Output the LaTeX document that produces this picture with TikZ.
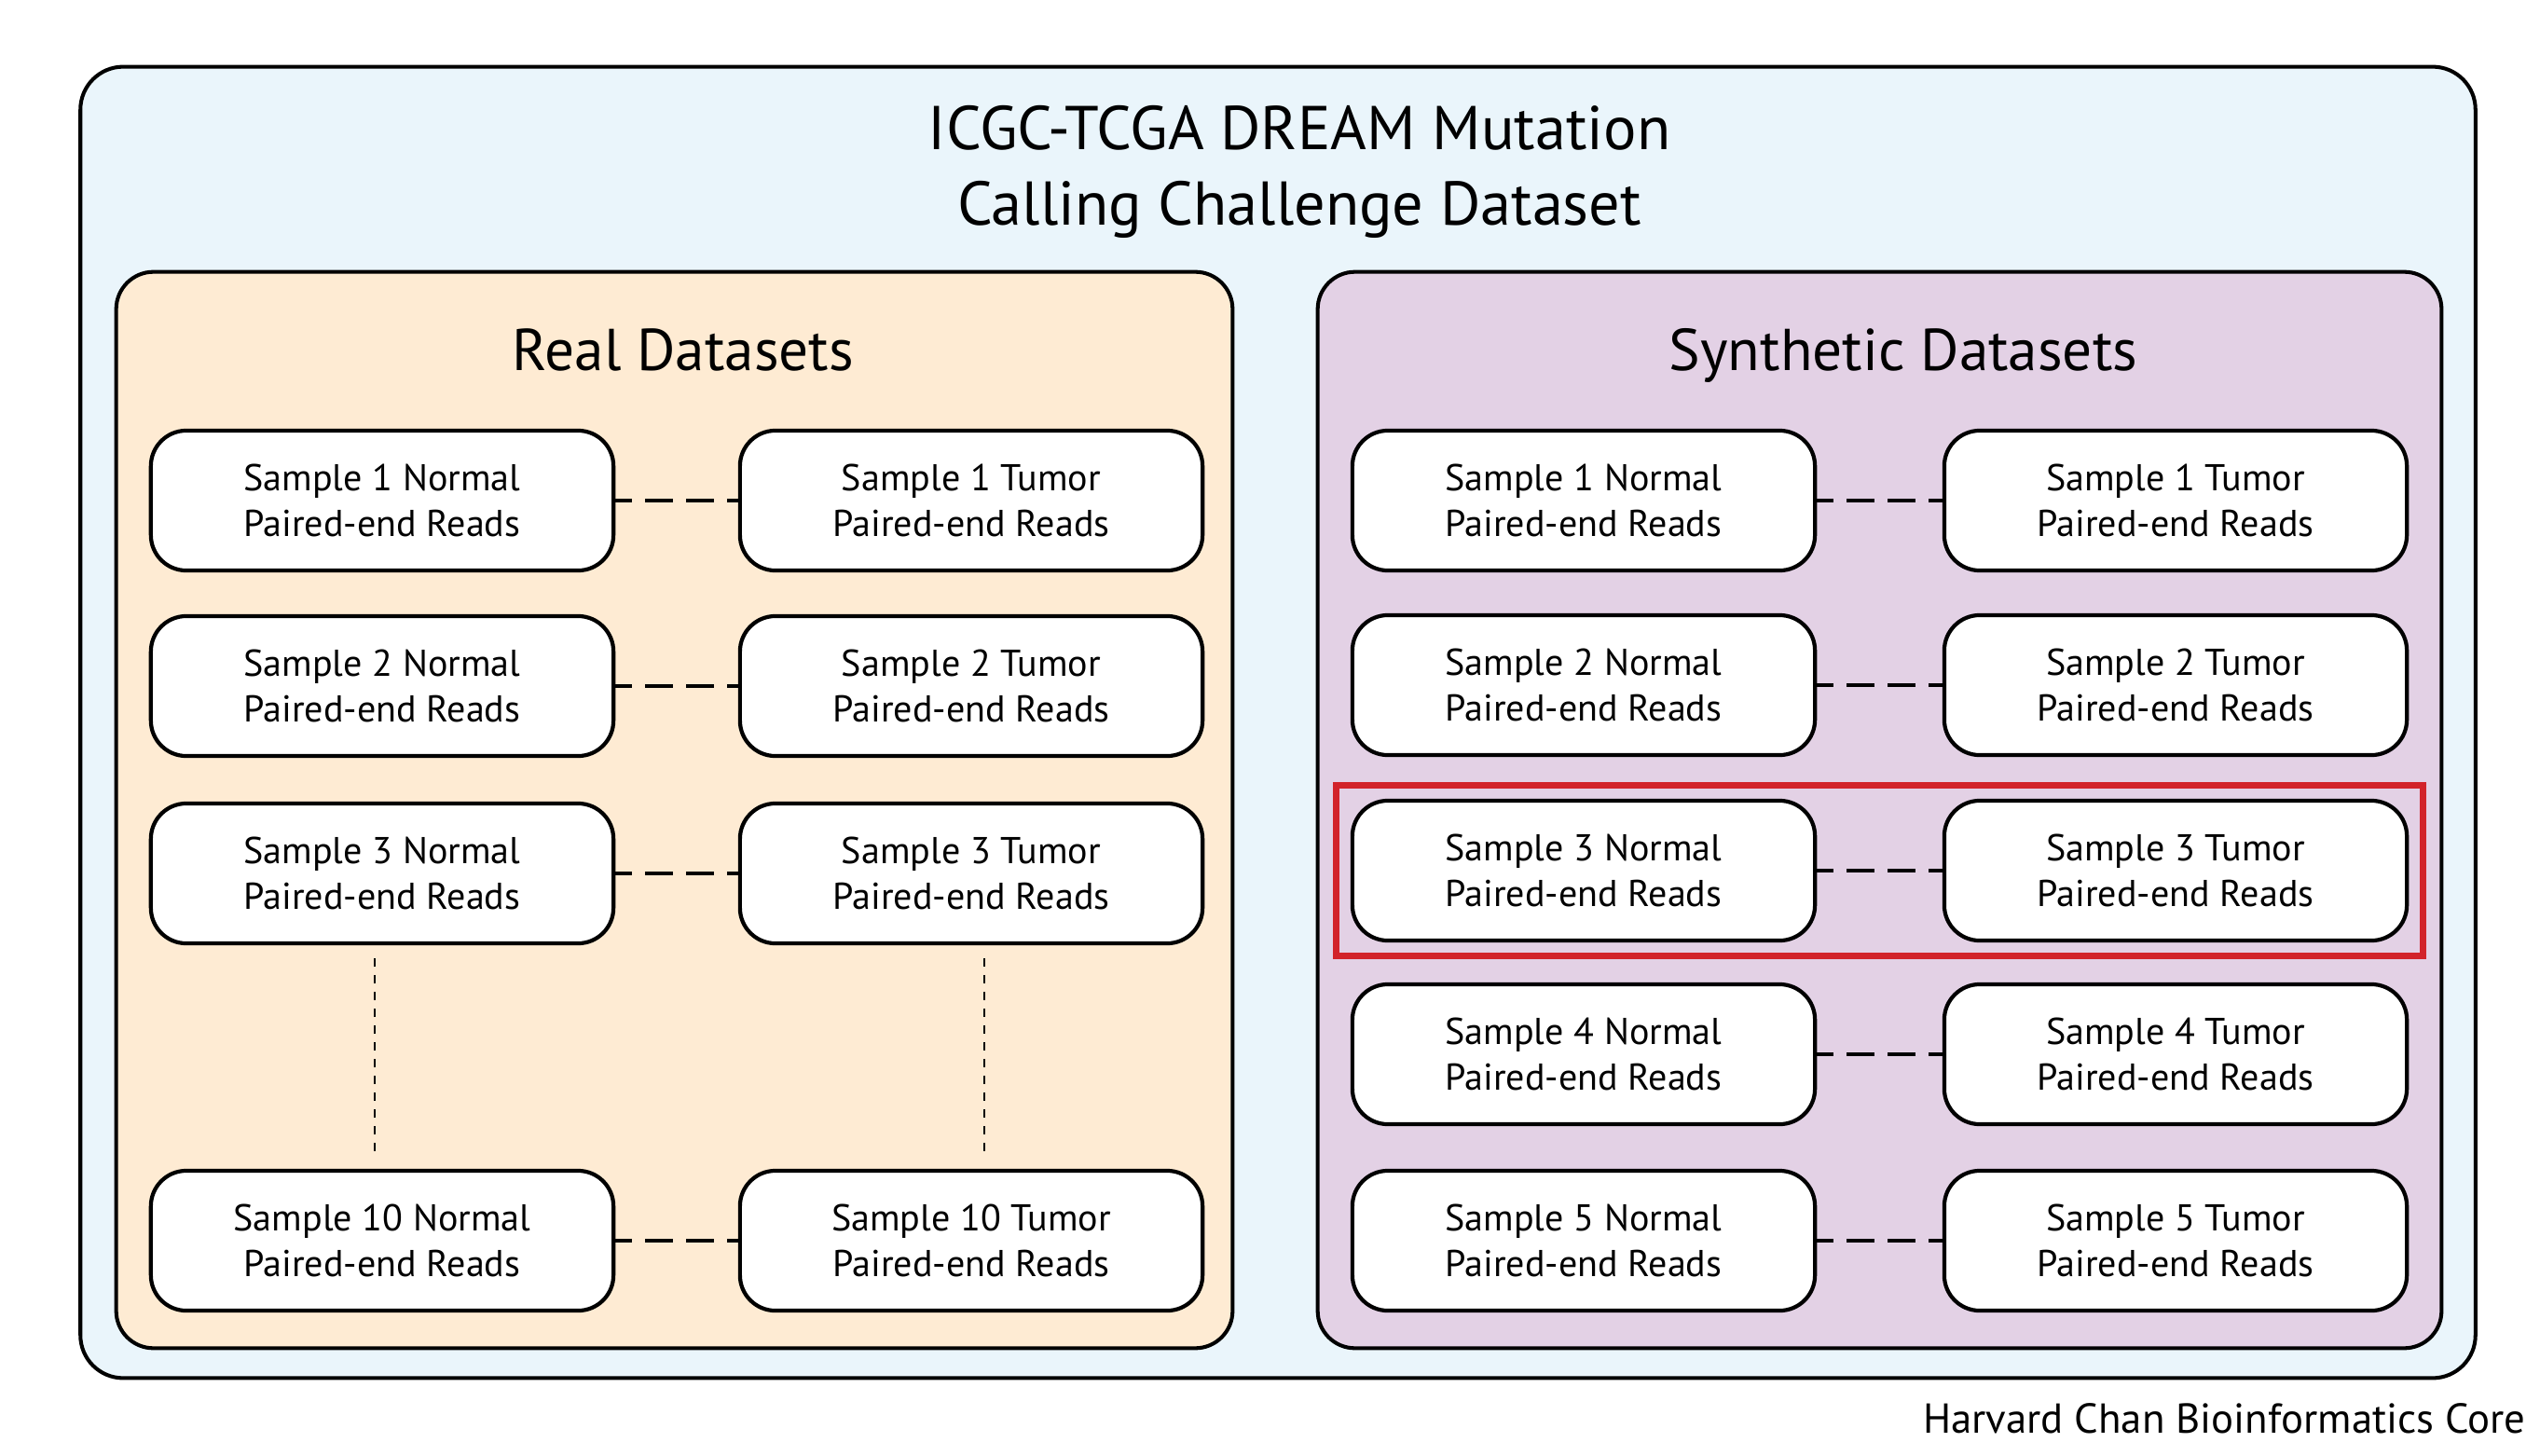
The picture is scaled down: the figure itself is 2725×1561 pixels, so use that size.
\documentclass[tikz,border=0pt]{standalone}
\usepackage{fontspec}
\setmainfont{PT Sans}
\usetikzlibrary{fit}
\definecolor{outerfill}{RGB}{234,245,251}
\definecolor{realfill}{RGB}{254,235,211}
\definecolor{synthfill}{RGB}{227,209,229}
\definecolor{hilite}{RGB}{210,35,42}
\tikzset{
  outerbox/.style={draw=black, line width=1.15pt, fill=outerfill, rounded corners=0.46cm},
  panelbox/.style={draw=black, line width=1.15pt, rounded corners=0.40cm},
  samplebox/.style={draw=black, line width=1.2pt, fill=white, rounded corners=0.38cm,
    minimum width=4.96cm, minimum height=1.5cm, align=center, inner sep=0pt,
    font=\fontsize{11.4}{13.9}\selectfont},
  pairline/.style={line width=1.2pt, dash pattern=on 0.3cm off 0.14cm, dash phase=0.12cm},
  moreline/.style={line width=0.75pt, dash pattern=on 0.09cm off 0.09cm},
  titletext/.style={align=center, font=\fontsize{18.85}{23}\selectfont},
  paneltitle/.style={font=\fontsize{18}{22}\selectfont, anchor=base},
  redframe/.style={draw=hilite, line width=2pt, inner xsep=0.15cm, inner ysep=0.14cm},
}
\begin{document}
\begin{tikzpicture}[x=0.01cm,y=-0.01cm]
\useasboundingbox (0,0) rectangle (2725,1561);
% outer box
\node[outerbox, minimum width=25.68cm, minimum height=14.06cm] (outer) at (1371,775) {};
\node[titletext] (title) at (1394,184) {ICGC-TCGA DREAM Mutation\\Calling Challenge Dataset};
% panels
\node[panelbox, fill=realfill, minimum width=11.97cm, minimum height=11.54cm] (real) at (723.5,869) {};
\node[panelbox, fill=synthfill, minimum width=12.05cm, minimum height=11.54cm] (synth) at (2016.5,869) {};
\node[paneltitle] (realtitle) at (733,397) {Real Datasets};
\node[paneltitle] (synthtitle) at (2042,397) {Synthetic Datasets};
% real samples
\node[samplebox] (rn1) at (410,537) {Sample 1 Normal\\Paired-end Reads};
\node[samplebox] (rt1) at (1042,537) {Sample 1 Tumor\\Paired-end Reads};
\node[samplebox] (rn2) at (410,736) {Sample 2 Normal\\Paired-end Reads};
\node[samplebox] (rt2) at (1042,736) {Sample 2 Tumor\\Paired-end Reads};
\node[samplebox] (rn3) at (410,937) {Sample 3 Normal\\Paired-end Reads};
\node[samplebox] (rt3) at (1042,937) {Sample 3 Tumor\\Paired-end Reads};
\node[samplebox] (rn10) at (410,1331) {Sample 10 Normal\\Paired-end Reads};
\node[samplebox] (rt10) at (1042,1331) {Sample 10 Tumor\\Paired-end Reads};
\foreach \i in {1,2,3,10} \draw[pairline] (rn\i.east) -- (rt\i.west);
\draw[moreline] ([xshift=-0.08cm,yshift=-0.14cm]rn3.south) -- ([xshift=-0.08cm,yshift=0.12cm]rn10.north);
\draw[moreline] ([xshift=0.14cm,yshift=-0.14cm]rt3.south) -- ([xshift=0.14cm,yshift=0.12cm]rt10.north);
% synthetic samples
\node[samplebox] (sn1) at (1699,537) {Sample 1 Normal\\Paired-end Reads};
\node[samplebox] (st1) at (2334,537) {Sample 1 Tumor\\Paired-end Reads};
\node[samplebox] (sn2) at (1699,735) {Sample 2 Normal\\Paired-end Reads};
\node[samplebox] (st2) at (2334,735) {Sample 2 Tumor\\Paired-end Reads};
\node[samplebox] (sn3) at (1699,934) {Sample 3 Normal\\Paired-end Reads};
\node[samplebox] (st3) at (2334,934) {Sample 3 Tumor\\Paired-end Reads};
\node[samplebox] (sn4) at (1699,1131) {Sample 4 Normal\\Paired-end Reads};
\node[samplebox] (st4) at (2334,1131) {Sample 4 Tumor\\Paired-end Reads};
\node[samplebox] (sn5) at (1699,1331) {Sample 5 Normal\\Paired-end Reads};
\node[samplebox] (st5) at (2334,1331) {Sample 5 Tumor\\Paired-end Reads};
\foreach \i in {1,...,5} \draw[pairline] (sn\i.east) -- (st\i.west);
% highlight
\node[redframe, fit=(sn3)(st3)] (hl) {};
% footer
\node[anchor=base east, font=\fontsize{12.75}{15}\selectfont] (credit) at (2722,1537) {Harvard Chan Bioinformatics Core};
\end{tikzpicture}
\end{document}
